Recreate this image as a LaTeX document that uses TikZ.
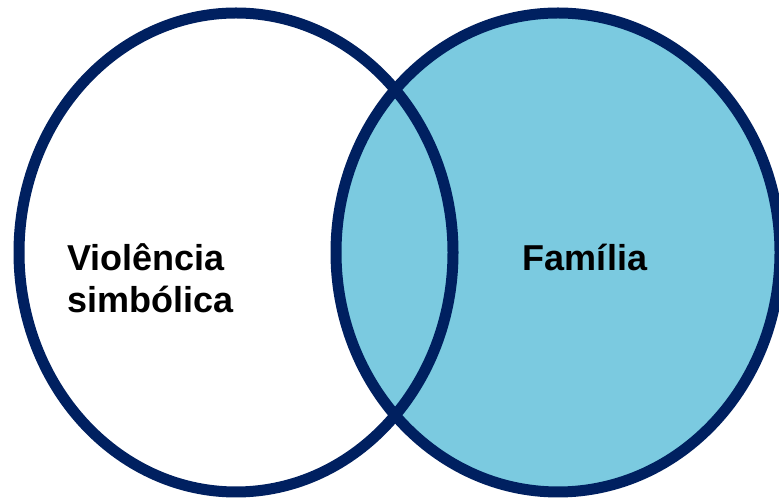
\documentclass[tikz,border=0pt]{standalone}
\usepackage{fontspec}
\setmainfont{Liberation Sans}
\definecolor{navy}{RGB}{0,32,96}
\definecolor{skyfill}{RGB}{123,202,224}
\begin{document}
\begin{tikzpicture}[x=1pt,y=1pt,
	ring/.style={draw=navy,line width=11pt},
	label/.style={inner sep=0pt,font=\fontsize{36}{42}\selectfont\bfseries}]
	\clip (0,0) rectangle (779,500);
	\fill[white] (0,0) rectangle (779,500);
	\fill[skyfill] (558,247.5) ellipse [x radius=222, y radius=239.5];
	\draw[ring] (236,247.5) ellipse [x radius=217, y radius=239.5];
	\draw[ring] (558,247.5) ellipse [x radius=222, y radius=239.5];
	\node[label,anchor=base west,align=left] (violencia) at (67,187) {Violência\\simbólica};
	\node[label,anchor=base] (familia) at (585,229) {Família};
\end{tikzpicture}
\end{document}
